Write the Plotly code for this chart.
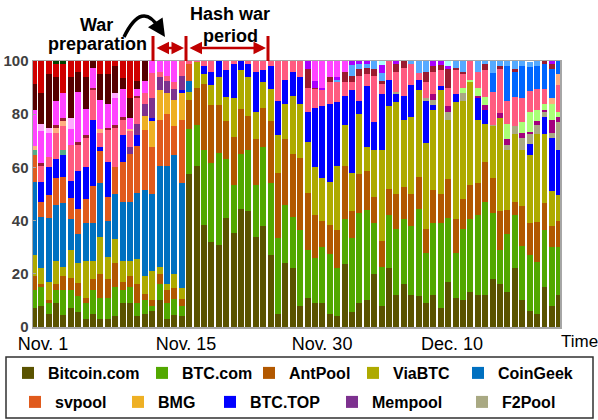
import plotly.graph_objects as go

# ---- bar index (time slots) and date tick labels ----
slots = list(range(72))
tick_pos = [1.25, 20.57, 38.95, 56.5]
tick_labels = ["Nov. 1", "Nov. 15", "Nov. 30", "Dec. 10"]

# ---- named pools (share %, bottom to top) ----
bitcoin_com = [7, 8, 5, 9, 4.5, 7, 5.5, 3, 5, 3,
               3, 4, 9, 9, 4, 5, 6, 10, 3, 4.5,
               4, 57.5, 60.5, 38.5, 32, 31, 41, 35.5, 44.5, 43.5,
               34, 38, 27, 5, 24, 22, 8, 11, 9, 9,
               5, 4, 23.5, 5.5, 9, 10, 20, 8, 22, 12,
               16, 12, 11.5, 9, 12, 7, 17, 11, 10, 13,
               12, 12, 18, 16, 13, 22, 10, 6, 5, 15,
               8, 12]
btc_com = [7, 7, 4, 5, 9.5, 7, 6, 6, 9, 8,
           8, 11, 5, 6, 5, 5, 2, 6, 6, 6,
           4, 17, 15.5, 28, 29.5, 34.5, 22, 18, 20.5, 23,
           19.5, 29.5, 27, 28.5, 22, 19.5, 28.5, 18, 17, 21,
           22.5, 18, 17, 28, 34, 34, 19, 14.5, 20, 25,
           24.5, 26, 33, 19, 27, 32, 24, 17, 27, 27.5,
           30, 35, 25, 13, 22, 20, 20.5, 21, 19.5, 21.5,
           22, 18]
antpool = [5, 1, 1, 2, 5, 4.5, 5, 2, 4, 9,
           7, 9, 3, 4, 7, 2.5, 2, 4, 5, 4,
           2.5, 11, 14, 25, 22, 18, 14.5, 18, 17, 13,
           17, 15, 23.5, 24.5, 24.5, 23.5, 27, 21.5, 16, 10,
           11, 14.5, 20, 10, 14.5, 14.5, 10, 10, 10, 13,
           12, 12, 12, 9, 12.5, 11, 14.5, 12.5, 11, 13,
           12, 15, 13, 14.5, 9, 5, 15, 12, 15, 10,
           8, 10]
viabtc = [8, 6, 7, 9, 3.5, 10.5, 7.5, 14, 7, 14,
          8.5, 9, 8, 6, 9.5, 6.5, 11, 2.5, 2, 5.5,
          4, 3, 9.5, 3.5, 7.5, 10.5, 9, 14.5, 14.5, 14.5,
          10.5, 9.5, 12, 14, 13.5, 22, 20.5, 19, 18, 16,
          16, 24, 15.5, 14.5, 22.5, 9, 17.5, 34, 31, 34.5,
          25.5, 29, 32.5, 32, 30, 39, 22.5, 44, 37, 38.5,
          24, 14.5, 19.5, 35, 22.5, 25.5, 21, 25.5, 33, 26,
          13, 9.5]
coingeek = [27.5, 19.5, 24, 21, 24, 11.5, 11, 14, 14, 20,
            13.5, 17, 22, 22, 25, 32.5, 29, 38, 44.5, 44.5,
            39.5, 4, 0, 0, 0, 0, 0, 0, 0, 0,
            0, 0, 0, 0, 0, 0, 0, 0, 0, 0,
            0, 0, 0, 0, 0, 0, 0, 0, 0, 0,
            0, 0, 0, 0, 0, 0, 0, 0, 0, 0,
            0, 0, 0, 0, 0, 0, 0, 0, 0, 0,
            0, 0]
svpool = [10, 5.5, 8.5, 10, 10, 8, 9.5, 9, 14, 12,
          9, 10, 15, 18, 17.5, 22.5, 17.5, 17.5, 19.5, 11,
          24, 6.5, 0, 0, 0, 0, 0, 0, 0, 0,
          0, 0, 0, 0, 0, 0, 0, 0, 0, 0,
          0, 0, 0, 0, 0, 0, 0, 0, 0, 0,
          0, 0, 0, 0, 0, 0, 0, 0, 0, 0,
          0, 0, 0, 0, 0, 0, 0, 0, 0, 0,
          0, 0]
bmg = [0, 0, 0, 0, 0, 0, 0, 0, 0, 0,
       0, 0, 0, 0, 0, 5.5, 10, 11, 8, 10,
       10, 0, 0, 0, 0, 0, 0, 0, 0, 0,
       0, 0, 0, 0, 0, 0, 0, 0, 0, 0,
       0, 0, 0, 0, 0, 0, 0, 0, 0, 0,
       0, 0, 0, 0, 0, 0, 0, 0, 0, 0,
       0, 0, 0, 0, 0, 0, 0, 0, 0, 0,
       0, 0]
btc_top = [0, 7.5, 10.5, 7, 8, 6.5, 14, 12, 25, 1.5,
           13, 0, 10, 0, 4, 0, 1, 0, 0, 0,
           1, 0, 0, 3, 5, 6, 10, 13, 3.5, 5,
           15, 4.5, 8.5, 13, 9, 9, 10, 11.5, 22.5, 27,
           29.5, 24, 11, 31, 5, 23, 10.5, 21, 10, 3,
           9, 12, 4, 16, 2, 1.5, 0, 3, 0, 0,
           8, 5, 0, 0, 0, 0, 0, 4.4, 0, 6.5,
           20, 17]
mempool = [0, 0, 0, 0, 0, 0, 0, 0, 0, 0,
           0, 0, 0, 2.5, 4.5, 4.5, 7.5, 5, 4.5, 4,
           5.5, 0, 0, 0, 0, 0, 0, 0, 0, 0,
           0, 0, 0, 0, 0, 0, 0, 0, 0, 0,
           0, 0, 0, 0, 0, 0, 0, 0, 0, 0,
           0, 0, 0, 0, 0, 0, 0, 0, 0, 0,
           0, 0, 0, 0, 0, 0, 0, 0, 0, 0,
           0, 0]
f2pool = [0, 0, 0, 0, 0, 0, 0, 0, 0, 0,
          0, 0, 0, 0, 0, 0, 0, 0, 0, 0,
          0, 0, 0, 0, 0, 0, 0, 0, 0, 0,
          0, 0, 0, 0, 0, 0, 0, 0, 0, 0,
          0, 0, 0, 0, 0, 0, 0, 0, 0, 1,
          0, 0, 0, 1, 2, 0, 3, 0, 3, 0,
          0, 0, 0.5, 0, 2, 3, 4.5, 3.75, 3.5, 2,
          2, 10.5]

# ---- unnamed smaller pools (share %, sparse: slot -> value) ----
other_magdark = {54: 2, 56: 2, 60: 1, 61: 2, 63: 2, 64: 2, 66: 2, 67: 0.6,
                 68: 1.5, 69: 0.5, 70: 5, 71: 2}
other_teal = {0: 2, 4: 2}
other_lightgreen = {58: 2, 59: 1, 60: 3, 61: 3, 64: 6, 66: 4, 67: 7.5, 68: 4,
                    69: 2.5, 70: 6, 71: 2}
other_pink = {1: 6, 2: 4, 3: 10, 4: 9, 5: 13.5, 6: 10, 7: 11, 8: 11, 9: 5.5,
              10: 12, 11: 15, 12: 6, 13: 6, 14: 9.5, 15: 4, 16: 9.5, 17: 2,
              18: 2, 19: 2.5, 20: 5.5, 21: 1, 22: 0.5, 23: 2, 24: 4, 26: 3.5,
              27: 1, 29: 1, 30: 4, 31: 3.5, 32: 2, 33: 15, 34: 7, 35: 4, 36: 6,
              37: 9, 38: 7, 39: 6, 40: 8, 41: 7.5, 42: 5, 43: 3, 44: 9.5,
              45: 4.5, 46: 17.5, 47: 4, 48: 7, 49: 7.5, 50: 10.5, 51: 8,
              52: 2.5, 53: 6, 54: 8.5, 55: 6, 56: 7, 57: 9, 58: 5, 59: 7,
              60: 6, 61: 10, 62: 12.5, 63: 16.5, 64: 8.5, 65: 11, 66: 9, 67: 8,
              68: 8, 69: 5.5, 71: 10}
other_peach = {0: 1.5, 3: 2, 4: 2, 9: 1.5, 13: 1, 70: 2, 71: 4}
other_blue2 = {62: 7, 64: 13, 65: 9.5, 66: 12, 67: 9, 68: 8.5, 69: 9.5,
               70: 11, 71: 5}
other_maroon = {1: 1, 3: 1, 4: 1, 6: 1, 7: 1, 8: 1, 10: 1, 11: 1, 12: 1,
                14: 1, 37: 7, 38: 0.5, 40: 2, 42: 4, 43: 2.5, 44: 2.5,
                45: 2.5, 46: 2.5, 47: 1, 49: 3, 50: 2.5, 53: 4, 54: 2, 55: 2,
                56: 7, 57: 1, 58: 1, 61: 2.5, 63: 1, 65: 1, 69: 1, 70: 2}
other_lightblue = {41: 1, 43: 4, 44: 2, 45: 1.5, 46: 3, 47: 3, 51: 1,
                   52: 4.5, 53: 4, 57: 2.5, 58: 4, 60: 4, 61: 1, 62: 4.5,
                   63: 2, 64: 2, 65: 3, 66: 2, 67: 2, 68: 2}
other_purple = {37: 3.5, 38: 2.5, 39: 1, 41: 1, 43: 1.5, 44: 1, 45: 1,
                47: 3, 49: 1, 54: 2, 55: 1.5, 56: 1, 70: 1}
other_magenta = {0: 13.5, 1: 12, 2: 9, 3: 9, 4: 9.5, 5: 6, 6: 19, 7: 10,
                 8: 7.5, 9: 11, 10: 9, 11: 10, 12: 10.5, 13: 4, 14: 2.5,
                 15: 4.5, 16: 4.5, 17: 4, 18: 5.5, 19: 8, 38: 7.5, 39: 10,
                 40: 6, 41: 6, 42: 4}
other_lightpink = {1: 3, 2: 2, 5: 4, 11: 2}
other_darkred = {0: 10, 1: 11.5, 2: 20, 3: 9, 5: 15.5, 6: 7.5, 7: 12,
                 8: 2.5, 9: 9.5, 10: 11, 11: 10, 12: 4, 13: 7.5, 14: 3,
                 15: 7.5}
other_red = {0: 8.5, 1: 13, 2: 5, 3: 5, 4: 11, 5: 6, 6: 4, 7: 6, 9: 5.5,
             10: 5, 11: 2, 12: 6.5, 13: 14, 14: 7.5}
other_cyan = {47: 1.5, 56: 2}
other_darkgreen = {3: 1, 4: 1}

named = [
    ("Bitcoin.com", bitcoin_com, "#5A5300"),
    ("BTC.com", btc_com, "#52A800"),
    ("AntPool", antpool, "#B25800"),
    ("ViaBTC", viabtc, "#AEAA00"),
    ("CoinGeek", coingeek, "#0070C0"),
    ("svpool", svpool, "#E05A1C"),
    ("BMG", bmg, "#EEB024"),
    ("BTC.TOP", btc_top, "#0000FF"),
    ("Mempool", mempool, "#7D318F"),
    ("F2Pool", f2pool, "#A9A983"),
]
others = [
    (other_magdark, "#A4007E"), (other_teal, "#55AA88"),
    (other_lightgreen, "#AAFF77"), (other_pink, "#FF5B80"),
    (other_peach, "#FFAF80"), (other_blue2, "#0066FF"),
    (other_maroon, "#9B1B30"), (other_lightblue, "#55AAFF"),
    (other_purple, "#AA00FF"), (other_magenta, "#FF44FF"),
    (other_lightpink, "#FFAAFF"), (other_darkred, "#560000"),
    (other_red, "#D00000"), (other_cyan, "#AAFFFF"),
    (other_darkgreen, "#004400"),
]

FONT = "Liberation Sans, Arial, sans-serif"
W, H = 598, 420
L, R, T, B = 33, 560, 61, 327


def px(xp):
    return (xp - L) / (R - L)


def py(yp):
    return (B - yp) / (B - T)


# legend placement (container coords): text start x px, row centre y px
leg_pos = [(48, 373), (182, 373), (289, 373), (393, 373), (498, 373),
           (55, 402), (158, 402), (250, 402), (372, 402), (502, 402)]

fig = go.Figure()
for i, (name, vals, col) in enumerate(named):
    lg = "legend" if i == 0 else f"legend{i + 1}"
    fig.add_trace(go.Bar(x=slots, y=vals, name=name, marker_color=col,
                         marker_line_width=0, legend=lg, hoverinfo="skip"))
for d, col in others:
    vals = [d.get(s, 0) for s in slots]
    fig.add_trace(go.Bar(x=slots, y=vals, marker_color=col,
                         marker_line_width=0, showlegend=False,
                         hoverinfo="skip"))

layout_legends = {}
for i, (tx, ty) in enumerate(leg_pos):
    key = "legend" if i == 0 else f"legend{i + 1}"
    layout_legends[key] = dict(
        x=(tx - 40) / W, y=1 - ty / H, xref="container", yref="container",
        xanchor="left", yanchor="middle", orientation="h",
        bgcolor="rgba(0,0,0,0)", borderwidth=0,
        font=dict(family=FONT, size=16, color="black", weight="bold"),
        itemclick=False, itemdoubleclick=False)

fig.update_layout(
    width=W, height=H,
    margin=dict(l=L, r=W - R, t=T, b=H - B, pad=0, autoexpand=False),
    barmode="stack", bargap=0.2,
    paper_bgcolor="white", plot_bgcolor="white",
    font=dict(family=FONT, color="black"),
    xaxis=dict(range=[-0.1, 71.1], tickvals=tick_pos, ticktext=tick_labels,
               tickfont=dict(size=18, color="black"), ticks="",
               automargin=False,
               showgrid=False, zeroline=False, showline=True,
               linecolor="#A6A6A6", linewidth=1.5, mirror=True),
    yaxis=dict(range=[0, 100], tickvals=[0, 20, 40, 60, 80, 100],
               tickfont=dict(size=15, color="#404040", weight="bold"),
               ticks="inside", ticklen=3, tickcolor="#A6A6A6",
               automargin=False,
               showgrid=False, zeroline=False, showline=True,
               linecolor="#A6A6A6", linewidth=1.5, mirror=True),
    **layout_legends,
)

shapes = []
# legend frame
shapes.append(dict(type="rect", xref="paper", yref="paper",
                   x0=px(6), x1=px(593), y0=py(418), y1=py(357),
                   line=dict(color="#303030", width=1.5)))
# red period markers
for xv in (153, 186, 268):
    shapes.append(dict(type="line", xref="paper", yref="paper",
                       x0=px(xv), x1=px(xv), y0=py(36), y1=py(61),
                       line=dict(color="#C00000", width=3)))
# curved black arrow
shapes.append(dict(type="path", xref="paper", yref="paper",
                   path=f"M {px(124)},{py(37)} Q {px(142)},{py(0)} {px(159)},{py(28)}",
                   line=dict(color="black", width=3.5)))
fig.update_layout(shapes=shapes)

ann = []
bold = dict(family=FONT, size=18, color="black", weight="bold")
for txt, xv, yv in [("War", 96, 25), ("preparation", 97, 44),
                    ("Hash war", 230, 14), ("period", 230, 36)]:
    ann.append(dict(text=txt, x=px(xv), y=py(yv), xref="paper", yref="paper",
                    showarrow=False, font=bold, xanchor="center",
                    yanchor="middle"))
ann.append(dict(text="Time", x=px(579), y=py(341), xref="paper",
                yref="paper", showarrow=False, xanchor="center",
                yanchor="middle",
                font=dict(family=FONT, size=17, color="black")))
# red double-headed arrows
for x0, x1 in [(153, 186), (186, 268)]:
    ann.append(dict(text="", x=px(x1 - 2), y=py(48), xref="paper",
                    yref="paper", ax=-(x1 - x0 - 4), ay=0, showarrow=True,
                    arrowside="end+start", arrowhead=2, arrowsize=1,
                    arrowwidth=2.5, arrowcolor="#C00000"))
# head of the curved arrow
ann.append(dict(text="", x=px(165), y=py(37), xref="paper", yref="paper",
                ax=-6, ay=-9, showarrow=True, arrowhead=2, arrowsize=1,
                arrowwidth=3.5, arrowcolor="black"))
fig.update_layout(annotations=ann)

fig.write_html("out.html",
               config={"displayModeBar": False, "staticPlot": True},
               post_script="document.body.style.margin='0';"
                           "document.body.style.overflow='hidden';")
